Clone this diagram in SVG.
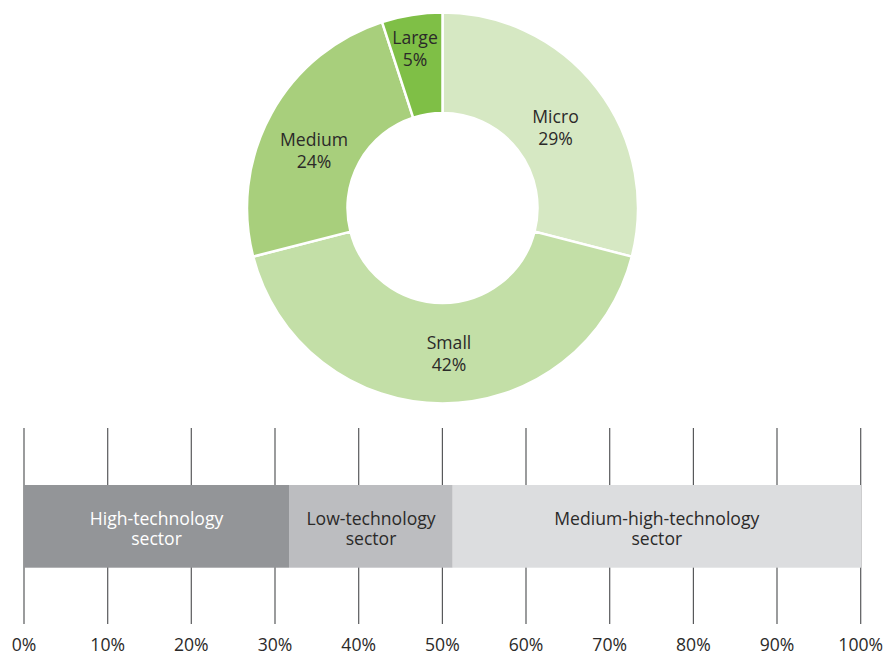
<svg xmlns="http://www.w3.org/2000/svg" width="883" height="653" viewBox="0 0 883 653">
<style>
text{font-family:"Open Sans","Noto Sans","Liberation Sans",sans-serif;font-size:17.6px;fill:#2b2a29;text-anchor:middle}
.slice{stroke:#ffffff;stroke-width:2.5;stroke-linejoin:miter}
.grid line{stroke:#58595b;stroke-width:1.2}
.w{fill:#ffffff}
</style>
<rect width="883" height="653" fill="#ffffff"/>
<g id="donut">
<g id="micro"><path class="slice" fill="#d6e8c3" d="M442.5,12.5 A195.5,195.5 0 0 1 631.86,256.62 L534.52,231.63 A95,95 0 0 0 442.5,113 Z"/>
<text x="555.5" y="123">Micro</text><text x="555.5" y="145">29%</text></g>
<g id="small"><path class="slice" fill="#c3dfa7" d="M631.86,256.62 A195.5,195.5 0 0 1 253.14,256.62 L350.48,231.63 A95,95 0 0 0 534.52,231.63 Z"/>
<text x="449" y="349">Small</text><text x="449" y="370.5">42%</text></g>
<g id="medium"><path class="slice" fill="#a8cf7c" d="M253.14,256.62 A195.5,195.5 0 0 1 382.09,22.07 L413.14,117.65 A95,95 0 0 0 350.48,231.63 Z"/>
<text x="314" y="146">Medium</text><text x="314" y="167.5">24%</text></g>
<g id="large"><path class="slice" fill="#7fbf46" d="M382.09,22.07 A195.5,195.5 0 0 1 442.5,12.5 L442.5,113 A95,95 0 0 0 413.14,117.65 Z"/>
<text x="415" y="44">Large</text><text x="415" y="66">5%</text></g>
</g>
<g id="grid" class="grid">
<line x1="24" y1="428" x2="24" y2="624"/>
<line x1="107.7" y1="428" x2="107.7" y2="624"/>
<line x1="191.3" y1="428" x2="191.3" y2="624"/>
<line x1="275" y1="428" x2="275" y2="624"/>
<line x1="358.7" y1="428" x2="358.7" y2="624"/>
<line x1="442.4" y1="428" x2="442.4" y2="624"/>
<line x1="526" y1="428" x2="526" y2="624"/>
<line x1="609.7" y1="428" x2="609.7" y2="624"/>
<line x1="693.4" y1="428" x2="693.4" y2="624"/>
<line x1="777" y1="428" x2="777" y2="624"/>
<line x1="860.7" y1="428" x2="860.7" y2="624"/>
</g>
<g id="high-tech"><rect x="24" y="485" width="265" height="82.7" fill="#939598"/>
<text class="w" x="156.5" y="524.5">High-technology</text><text class="w" x="156.5" y="545">sector</text></g>
<g id="low-tech"><rect x="289" y="485" width="163.7" height="82.7" fill="#bcbdc0"/>
<text x="371" y="524.5">Low-technology</text><text x="371" y="545">sector</text></g>
<g id="medium-high-tech"><rect x="452.7" y="485" width="408.3" height="82.7" fill="#dcdddf"/>
<text x="656.8" y="524.5">Medium-high-technology</text><text x="656.8" y="545">sector</text></g>
<g id="axis-labels">
<text x="24" y="651">0%</text>
<text x="107.7" y="651">10%</text>
<text x="191.3" y="651">20%</text>
<text x="275" y="651">30%</text>
<text x="358.7" y="651">40%</text>
<text x="442.4" y="651">50%</text>
<text x="526" y="651">60%</text>
<text x="609.7" y="651">70%</text>
<text x="693.4" y="651">80%</text>
<text x="777" y="651">90%</text>
<text x="860.7" y="651">100%</text>
</g>
</svg>
